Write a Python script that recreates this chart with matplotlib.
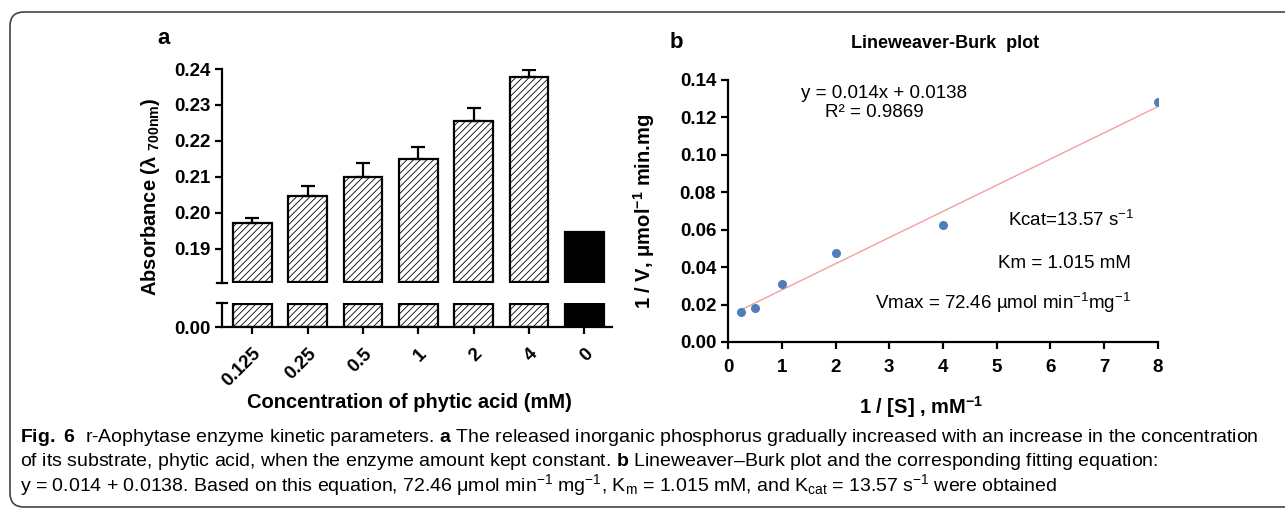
import matplotlib
matplotlib.use('Agg')
import matplotlib.pyplot as plt
import numpy as np
from matplotlib import font_manager
from matplotlib.patches import FancyBboxPatch
from matplotlib.transforms import IdentityTransform

plt.rcParams['font.family'] = ['Liberation Sans', 'DejaVu Sans']
plt.rcParams['mathtext.fontset'] = 'custom'
plt.rcParams['mathtext.rm'] = 'Liberation Sans'
plt.rcParams['mathtext.it'] = 'Liberation Sans:italic'
plt.rcParams['mathtext.bf'] = 'Liberation Sans:bold'
plt.rcParams['mathtext.sf'] = 'Liberation Sans'
plt.rcParams['hatch.linewidth'] = 0.6

# panel a: absorbance vs substrate concentration
conc_labels = ['0.125', '0.25', '0.5', '1', '2', '4', '0']
absorbance = [0.1970, 0.2047, 0.2098, 0.2149, 0.2255, 0.2378, 0.1945]
abs_err = [0.0014, 0.0028, 0.0040, 0.0034, 0.0035, 0.0019, 0.0]
abs_ticks = [0.19, 0.20, 0.21, 0.22, 0.23, 0.24]

# panel b: Lineweaver-Burk
inv_s = [0.25, 0.5, 1, 2, 4, 8]
inv_v = [0.0161, 0.0184, 0.0311, 0.0476, 0.0623, 0.1280]
slope, intercept = 0.014, 0.0138

caption = [
    r'$\mathbf{Fig.\ 6}$  r-Aophytase enzyme kinetic parameters. $\mathbf{a}$ The released inorganic phosphorus gradually increased with an increase in the concentration',
    r'of its substrate, phytic acid, when the enzyme amount kept constant. $\mathbf{b}$ Lineweaver–Burk plot and the corresponding fitting equation:',
    r'y = 0.014 + 0.0138. Based on this equation, 72.46 μmol min$^{-1}$ mg$^{-1}$, K$_{\mathrm{m}}$ = 1.015 mM, and K$_{\mathrm{cat}}$ = 13.57 s$^{-1}$ were obtained',
]

W, H = 1285, 509
fig = plt.figure(figsize=(W / 100, H / 100), dpi=100)

TICK_FS = 13.5
LABEL_FS = 14.5
NOTE_FS = 13.5

installed = {f.name for f in font_manager.fontManager.ttflist}
cap_family = ['Liberation Sans Narrow'] if 'Liberation Sans Narrow' in installed else ['Liberation Sans']


def box(x0, y0, x1, y1):
    return [x0 / W, 1 - y1 / H, (x1 - x0) / W, (y1 - y0) / H]


ax_top = fig.add_axes(box(222, 69, 612, 283))
ax_bot = fig.add_axes(box(222, 303, 612, 327))
ax_b = fig.add_axes(box(728, 80, 1158, 342))

x = np.arange(len(conc_labels))
top_lo, top_hi = 0.1804, 0.24
bot_hi = 0.0067
faces = ['white'] * 6 + ['black']

vals = np.array(absorbance)
bars_t = ax_top.bar(x, vals - top_lo - 0.0003, bottom=top_lo + 0.0003, width=0.7,
                    color=faces, edgecolor='black', linewidth=1.6)
bars_b = ax_bot.bar(x, np.minimum(vals, bot_hi * 0.94), width=0.7,
                    color=faces, edgecolor='black', linewidth=1.6)
for b1, b2, f in zip(bars_t, bars_b, faces):
    if f == 'white':
        b1.set_hatch('/////')
        b2.set_hatch('/////')

ax_top.errorbar(x[:6], vals[:6], yerr=[np.zeros(6), abs_err[:6]], fmt='none',
                ecolor='black', elinewidth=1.6, capsize=5, capthick=1.6)

for ax in (ax_top, ax_bot):
    ax.set_xlim(-0.55, 6.5)
    ax.spines['top'].set_visible(False)
    ax.spines['right'].set_visible(False)
    ax.spines['left'].set_linewidth(1.6)
    ax.spines['bottom'].set_linewidth(1.6)
    ax.tick_params(width=1.6, length=5, labelsize=TICK_FS)

ax_top.set_ylim(top_lo, top_hi)
ax_top.spines['bottom'].set_visible(False)
ax_top.set_xticks([])
ax_top.set_yticks(abs_ticks)
ax_top.set_yticklabels(['%.2f' % t for t in abs_ticks], fontweight='bold')
ax_top.plot([-0.012, 0.012], [0, 0], transform=ax_top.transAxes, color='black',
            lw=1.6, clip_on=False)

ax_bot.set_ylim(0, bot_hi)
ax_bot.set_yticks([0])
ax_bot.set_yticklabels(['0.00'], fontweight='bold')
ax_bot.set_xticks(x)
ax_bot.set_xticklabels(conc_labels, rotation=45, ha='right', va='top',
                       rotation_mode='anchor', fontweight='bold')
ax_bot.tick_params(axis='x', pad=8)
ax_bot.plot([-0.012, 0.012], [1, 1], transform=ax_bot.transAxes, color='black',
            lw=1.6, clip_on=False)
ax_bot.set_xlabel('Concentration of phytic acid (mM)', fontsize=LABEL_FS,
                  fontweight='bold')
ax_bot.xaxis.set_label_coords(0.48, -2.75)

fig.text(151 / W, 1 - 197 / H, r'Absorbance (λ $_{\mathbf{700nm}}$)', rotation=90,
         ha='center', va='center', fontsize=LABEL_FS, fontweight='bold')
fig.text(164 / W, 1 - 38 / H, 'a', ha='center', va='center', fontsize=16,
         fontweight='bold')

# panel b
xs = np.array([min(inv_s), max(inv_s)])
ax_b.plot(xs, slope * xs + intercept, color='#f4a0a0', lw=1.0, zorder=2)
ax_b.scatter(inv_s, inv_v, s=30, color='#4f7db8', zorder=3)
ax_b.set_xlim(0, 8)
ax_b.set_ylim(0, 0.14)
ax_b.set_xticks(range(9))
ax_b.set_yticks(np.arange(0, 0.141, 0.02))
ax_b.set_xticklabels([str(i) for i in range(9)], fontweight='bold')
ax_b.set_yticklabels(['%.2f' % t for t in np.arange(0, 0.141, 0.02)], fontweight='bold')
ax_b.spines['top'].set_visible(False)
ax_b.spines['right'].set_visible(False)
ax_b.spines['left'].set_linewidth(1.6)
ax_b.spines['bottom'].set_linewidth(1.6)
ax_b.tick_params(width=1.6, length=5, labelsize=TICK_FS)
ax_b.tick_params(axis='x', pad=7)
ax_b.set_xlabel('1 / [S] , mM$^{\\mathbf{-1}}$', fontsize=LABEL_FS, fontweight='bold')
ax_b.xaxis.set_label_coords(0.45, -0.2)
ax_b.set_ylabel('1 / V, μmol$^{\\mathbf{-1}}$ min.mg', fontsize=LABEL_FS,
                fontweight='bold')
ax_b.yaxis.set_label_coords(-0.165, 0.5)

ax_b.text(2.9, 0.133, 'y = 0.014x + 0.0138', ha='center', va='center', fontsize=NOTE_FS)
ax_b.text(2.73, 0.1225, 'R² = 0.9869', ha='center', va='center', fontsize=NOTE_FS)
ax_b.text(7.55, 0.065, 'Kcat=13.57 s$^{-1}$', ha='right', va='center', fontsize=NOTE_FS)
ax_b.text(7.5, 0.042, 'Km = 1.015 mM', ha='right', va='center', fontsize=NOTE_FS)
ax_b.text(7.5, 0.021, 'Vmax = 72.46 µmol min$^{-1}$mg$^{-1}$', ha='right',
          va='center', fontsize=NOTE_FS)

fig.text(676 / W, 1 - 43 / H, 'b', ha='center', va='center', fontsize=16,
         fontweight='bold')
fig.text(945 / W, 1 - 43 / H, 'Lineweaver-Burk  plot', ha='center', va='center',
         fontsize=13, fontweight='bold')

# caption, scaled so the first line spans the same width as the original
fig.canvas.draw()
renderer = fig.canvas.get_renderer()
t0 = fig.text(20 / W, 1 - 437 / H, caption[0], ha='left', va='center', fontsize=12,
              family=cap_family)
w0 = t0.get_window_extent(renderer).width
size = min(12 * (1255 - 20) / w0, 14)
t0.set_fontsize(size)
for i, line in enumerate(caption[1:]):
    fig.text(20 / W, 1 - (461 + 24 * i) / H, line, ha='left', va='center',
             fontsize=size, family=cap_family)

frame = FancyBboxPatch((10, H - 507), 1300, 495,
                       boxstyle='round,pad=0,rounding_size=14',
                       transform=IdentityTransform(), fill=False,
                       edgecolor='#444444', linewidth=1.2, clip_on=False)
fig.patches.append(frame)

fig.savefig('out.png', dpi=100)
